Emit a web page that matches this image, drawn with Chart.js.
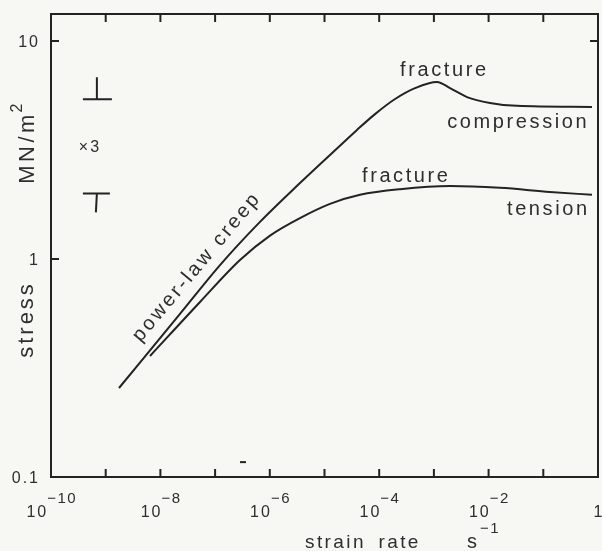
<!DOCTYPE html>
<html>
<head>
<meta charset="utf-8">
<script src="https://cdn.jsdelivr.net/npm/chart.js@4/dist/chart.umd.min.js"></script>
<style>
    body { margin: 0; background: #f7f7f4; }
    #wrap { width: 602px; height: 551px; }
</style>
</head>
<body>
<div id="wrap"><canvas id="creepChart"></canvas></div>
<script>
// values (strain rate in s^-1, stress in MN/m^2)
const compressionRate = [1.75e-9, 2.28e-8, 1.23e-7, 6.62e-7, 3.56e-6, 1.26e-5, 3.93e-5, 8.38e-5, 1.95e-4, 4.51e-4, 1.14e-3, 1.97e-3, 4.03e-3, 1.06e-2, 3.3e-2, 0.776];
const compressionStress = [0.256, 0.56, 0.938, 1.48, 2.23, 3.00, 3.91, 4.62, 5.42, 6.08, 6.49, 6.08, 5.53, 5.20, 5.04, 4.98];

const tensionRate = [6.46e-9, 5.3e-8, 2.85e-7, 1.01e-6, 3.56e-6, 1.26e-5, 4.46e-5, 2.4e-4, 1.97e-3, 1.61e-2, 0.132, 0.776];
const tensionStress = [0.359, 0.635, 0.989, 1.28, 1.54, 1.79, 1.97, 2.09, 2.16, 2.12, 2.03, 1.97];

const rateTicks = [1e-10, 1e-9, 1e-8, 1e-7, 1e-6, 1e-5, 1e-4, 1e-3, 1e-2, 1e-1, 1];
const rateLabelExponents = [-10, -8, -6, -4, -2, 0];
const stressTicks = [0.1, 1, 10];
const stressTickLabels = ["0.1", "1", "10"];

const curveLabels = [
    { text: "fracture", rate: 1.47e-3, stress: 7.36 },
    { text: "compression", rate: 3.3e-2, stress: 4.25 },
    { text: "fracture", rate: 2.96e-4, stress: 2.38 },
    { text: "tension", rate: 0.117, stress: 1.69 },
];
const creepLabel = { text: "power-law creep", rate: 4.48e-8, stress: 0.91 };
const factorLabel = { text: "\u00d73", rate: 4.95e-10, stress: 3.23 };
const factorBarRate = 6.9e-10;
const factorBarStress = [2.0, 5.4];
const strayMark = { rate: 3.24e-7, stress: 0.117 };

const INK = "#232323";
const TEXT = "#2e2e2e";
const FONT = "'Liberation Sans', Arial, sans-serif";

function spacedWidth(ctx, text, spacing) {
    let total = 0;
    for (const ch of text) {
        total += ctx.measureText(ch).width;
    }
    return total + spacing * (text.length - 1);
}

// draws text starting at x (left), char by char so letters can be spread
function drawSpaced(ctx, text, x, y, spacing) {
    ctx.textAlign = "left";
    let cursor = x;
    for (const ch of text) {
        ctx.fillText(ch, cursor, y);
        cursor += ctx.measureText(ch).width + spacing;
    }
    return cursor - spacing;
}

function drawSpacedCentered(ctx, text, x, y, spacing) {
    const width = spacedWidth(ctx, text, spacing);
    drawSpaced(ctx, text, x - width / 2, y, spacing);
}

const figurePlugin = {
    id: "figurePlugin",
    beforeDraw(chart) {
        const ctx = chart.ctx;
        ctx.save();
        ctx.fillStyle = "#f7f7f4";
        ctx.fillRect(0, 0, chart.width, chart.height);
        ctx.restore();
    },
    afterDatasetsDraw(chart) {
        const ctx = chart.ctx;
        const area = chart.chartArea;
        const xScale = chart.scales.x;
        const yScale = chart.scales.y;
        const tick = 8;

        ctx.save();
        ctx.strokeStyle = INK;
        ctx.lineWidth = 2;
        ctx.strokeRect(area.left, area.top, area.right - area.left, area.bottom - area.top);

        ctx.beginPath();
        for (const rate of rateTicks.slice(1, -1)) {
            const px = xScale.getPixelForValue(rate);
            ctx.moveTo(px, area.bottom);
            ctx.lineTo(px, area.bottom - tick);
            ctx.moveTo(px, area.top);
            ctx.lineTo(px, area.top + tick);
        }
        for (const stress of stressTicks.slice(1)) {
            const py = yScale.getPixelForValue(stress);
            ctx.moveTo(area.left, py);
            ctx.lineTo(area.left + tick, py);
        }
        const topRight = yScale.getPixelForValue(stressTicks[2]);
        ctx.moveTo(area.right, topRight);
        ctx.lineTo(area.right - tick, topRight);
        ctx.stroke();

        // tick labels
        ctx.fillStyle = TEXT;
        ctx.textBaseline = "alphabetic";
        for (const exponent of rateLabelExponents) {
            const px = xScale.getPixelForValue(Math.pow(10, exponent));
            if (exponent === 0) {
                ctx.font = "16px " + FONT;
                drawSpacedCentered(ctx, "1", px, area.bottom + 40, 0);
                continue;
            }
            const sup = "\u2212" + Math.abs(exponent);
            ctx.font = "16px " + FONT;
            const baseWidth = spacedWidth(ctx, "10", 2);
            ctx.font = "15px " + FONT;
            const supWidth = spacedWidth(ctx, sup, 1.5);
            const start = px - (baseWidth + 1 + supWidth) / 2;
            ctx.font = "16px " + FONT;
            drawSpaced(ctx, "10", start, area.bottom + 40, 2);
            ctx.font = "15px " + FONT;
            drawSpaced(ctx, sup, start + baseWidth + 1, area.bottom + 26, 1.5);
        }

        ctx.font = "16px " + FONT;
        ctx.textBaseline = "middle";
        stressTicks.forEach((stress, i) => {
            const py = yScale.getPixelForValue(stress) + 2;
            const label = stressTickLabels[i];
            const width = spacedWidth(ctx, label, 2);
            drawSpaced(ctx, label, area.left - 13 - width, py, 2);
        });

        // axis titles
        ctx.textBaseline = "alphabetic";
        ctx.font = "19px " + FONT;
        const strainEnd = drawSpaced(ctx, "strain", area.left + 254, area.bottom + 71, 2.4);
        drawSpaced(ctx, "rate", strainEnd + 15, area.bottom + 71, 2.4);
        ctx.font = "20px " + FONT;
        const sEnd = drawSpaced(ctx, "s", area.left + 416, area.bottom + 71, 0);
        ctx.font = "15px " + FONT;
        drawSpaced(ctx, "\u22121", sEnd + 3, area.bottom + 56, 1.5);

        ctx.save();
        ctx.translate(area.left - 18, area.top + 0.663 * (area.bottom - area.top));
        ctx.rotate(-Math.PI / 2);
        ctx.font = "22px " + FONT;
        drawSpacedCentered(ctx, "stress", 0, 0, 3);
        ctx.restore();

        ctx.save();
        ctx.translate(area.left - 17, area.top + 0.279 * (area.bottom - area.top));
        ctx.rotate(-Math.PI / 2);
        ctx.font = "22px " + FONT;
        const mnWidth = spacedWidth(ctx, "MN/m", 3.5);
        const mnEnd = drawSpaced(ctx, "MN/m", -(mnWidth + 12) / 2, 0, 3.5);
        ctx.font = "16px " + FONT;
        drawSpaced(ctx, "2", mnEnd + 2, -12, 0);
        ctx.restore();

        // curve annotations
        ctx.font = "20px " + FONT;
        ctx.textBaseline = "middle";
        for (const label of curveLabels) {
            drawSpacedCentered(ctx, label.text,
                xScale.getPixelForValue(label.rate),
                yScale.getPixelForValue(label.stress), 2.6);
        }

        ctx.save();
        ctx.translate(xScale.getPixelForValue(creepLabel.rate), yScale.getPixelForValue(creepLabel.stress));
        ctx.rotate(-50 * Math.PI / 180);
        drawSpacedCentered(ctx, creepLabel.text, 0, 0, 2.8);
        ctx.restore();

        ctx.font = "16px " + FONT;
        drawSpacedCentered(ctx, factorLabel.text,
            xScale.getPixelForValue(factorLabel.rate),
            yScale.getPixelForValue(factorLabel.stress), 2);

        // x3 bar markers
        const barX = xScale.getPixelForValue(factorBarRate);
        const lowY = yScale.getPixelForValue(factorBarStress[0]);
        const highY = yScale.getPixelForValue(factorBarStress[1]);
        ctx.lineWidth = 2;
        ctx.beginPath();
        ctx.moveTo(barX - 14, highY);
        ctx.lineTo(barX + 15, highY);
        ctx.moveTo(barX, highY);
        ctx.lineTo(barX, highY - 22);
        ctx.moveTo(barX - 14, lowY);
        ctx.lineTo(barX + 13, lowY);
        ctx.moveTo(barX, lowY);
        ctx.lineTo(barX - 1, lowY + 19);
        ctx.stroke();

        const strayX = xScale.getPixelForValue(strayMark.rate);
        const strayY = yScale.getPixelForValue(strayMark.stress);
        ctx.beginPath();
        ctx.moveTo(strayX - 3, strayY);
        ctx.lineTo(strayX + 3, strayY);
        ctx.stroke();

        ctx.restore();
    },
};

function toPoints(rates, stresses) {
    return rates.map((rate, i) => ({ x: rate, y: stresses[i] }));
}

document.addEventListener("DOMContentLoaded", () => {
    const canvas = document.getElementById("creepChart");

    new Chart(canvas.getContext("2d"), {
        type: "scatter",
        data: {
            datasets: [
                {
                    label: "compression",
                    data: toPoints(compressionRate, compressionStress),
                },
                {
                    label: "tension",
                    data: toPoints(tensionRate, tensionStress),
                },
            ].map((set) => ({
                ...set,
                showLine: true,
                borderColor: INK,
                borderWidth: 2,
                pointRadius: 0,
                fill: false,
                cubicInterpolationMode: "monotone",
            })),
        },
        options: {
            responsive: true,
            maintainAspectRatio: false,
            animation: false,
            layout: {
                padding: { left: 51, top: 14, right: 4, bottom: 74 },
            },
            scales: {
                x: { type: "logarithmic", min: 1e-10, max: 1, display: false },
                y: { type: "logarithmic", min: 0.1, max: 13.3, display: false },
            },
            plugins: {
                legend: { display: false },
                tooltip: { enabled: false },
            },
        },
        plugins: [figurePlugin],
    });
});
</script>
</body>
</html>
